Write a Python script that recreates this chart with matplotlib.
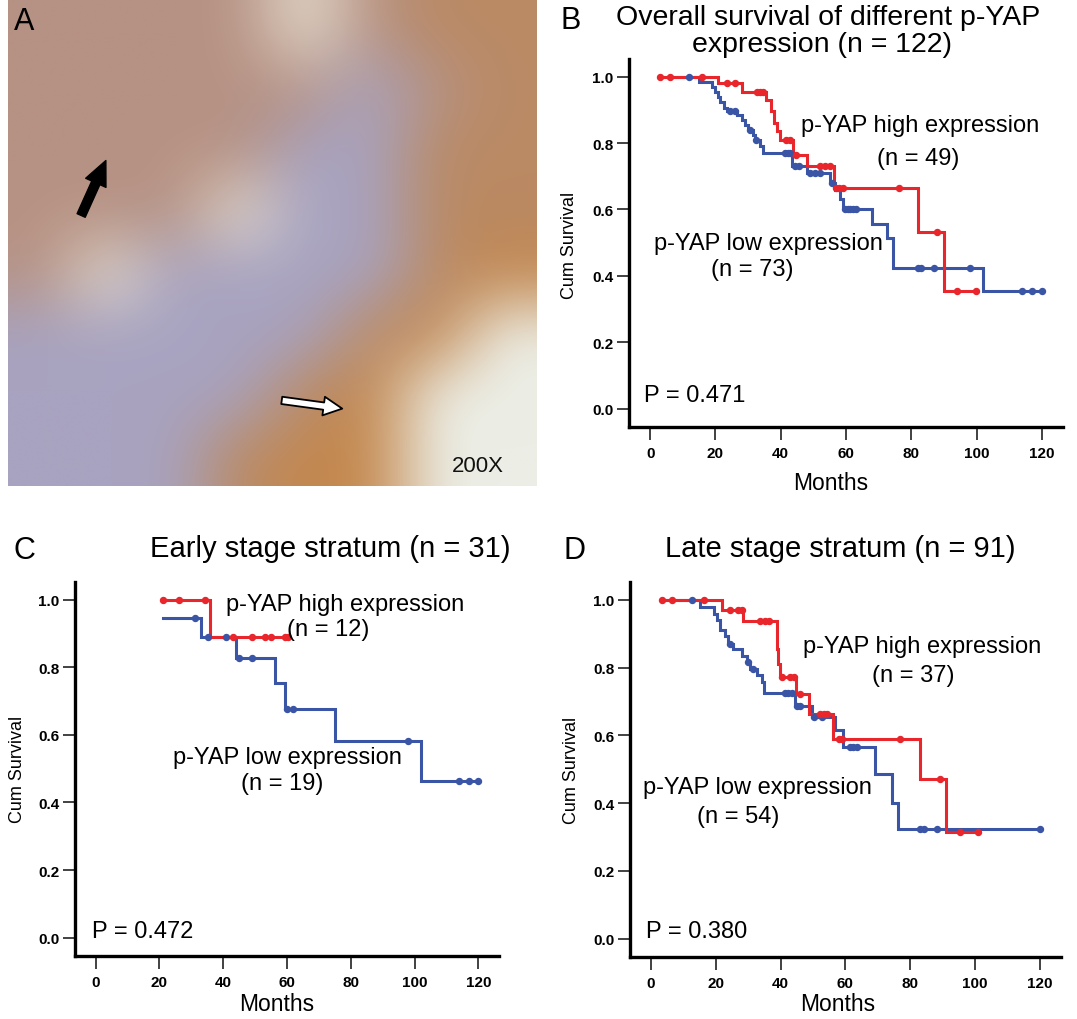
import numpy as np
import matplotlib
matplotlib.use("Agg")
import matplotlib.pyplot as plt

plt.rcParams['font.family'] = ['Liberation Sans', 'DejaVu Sans']

RED = '#e8262b'
BLUE = '#3b55a6'

# ---------------- Panel A: coarse colour map of the stained section ----------------
palette = {
    'T': (182, 146, 132),   # tumour, mauve-brown
    'K': (186, 138, 100),   # brown tumour
    'S': (168, 163, 192),   # stroma, blue-purple
    'W': (230, 222, 208),   # pale gaps
    'G': (236, 238, 230),   # empty background
    'O': (196, 136, 78),    # strongly stained edge
}
tissue_rows = [
    "TTTTWTKK",
    "TTTTTSTK",
    "TTTTSSKK",
    "TTTWSSKK",
    "TWSSSSKO",
    "SSSSSKOG",
    "SSSSKOGG",
    "SSSKOOGG",
]

# ---------------- Panel B: overall survival (n = 122) ----------------
B_high_t = [2.9, 20.9, 28.1, 35.5, 37.0, 38.0, 39.0, 39.8, 43.9, 48.0, 56.2, 82.2, 90.1, 99.9]
B_high_s = [1.0, 0.98, 0.955, 0.93, 0.895, 0.86, 0.835, 0.81, 0.765, 0.73, 0.665, 0.532, 0.355, 0.355]
B_high_c = [2.9, 6.1, 15.8, 23.5, 26.0, 32.7, 33.6, 34.5, 41.5, 42.9, 44.6, 52.1, 53.5, 55.0,
            57.0, 58.0, 59.2, 76.1, 87.8, 94.0, 99.9]
B_low_t = [3.5, 14.8, 18.9, 19.9, 20.9, 21.5, 22.5, 23.5, 26.5, 28.0, 29.0, 30.0, 31.6, 32.2,
           33.5, 34.5, 43.4, 48.0, 55.1, 56.7, 58.2, 59.2, 67.9, 72.5, 74.5, 102.1, 120.0]
B_low_s = [1.0, 0.985, 0.97, 0.955, 0.94, 0.925, 0.905, 0.895, 0.885, 0.87, 0.855, 0.84, 0.825, 0.81,
           0.79, 0.77, 0.73, 0.71, 0.68, 0.66, 0.63, 0.60, 0.555, 0.515, 0.425, 0.355, 0.355]
B_low_c = [12.0, 24.5, 26.0, 30.5, 32.5, 41.4, 42.2, 42.9, 44.5, 45.5, 49.0, 50.5, 52.1, 55.6,
           59.7, 60.5, 61.3, 62.2, 63.2, 82.2, 83.0, 87.0, 98.0, 113.9, 116.9, 120.0]

# ---------------- Panel C: early stage (n = 31) ----------------
C_high_t = [21.0, 36.0, 60.3]
C_high_s = [1.0, 0.89, 0.89]
C_high_c = [21.0, 26.1, 34.2, 43.1, 49.0, 53.0, 55.1, 59.3, 60.3]
C_low_t = [21.0, 33.0, 43.9, 56.1, 59.3, 74.9, 102.1, 120.0]
C_low_s = [0.947, 0.89, 0.8275, 0.754, 0.677, 0.582, 0.4645, 0.4645]
C_low_c = [31.1, 35.1, 41.0, 45.0, 49.0, 60.0, 61.9, 97.9, 114.1, 117.0, 120.0]

# ---------------- Panel D: late stage (n = 91) ----------------
D_high_t = [3.3, 21.8, 28.3, 38.8, 39.3, 39.9, 44.7, 48.9, 56.3, 83.1, 91.2, 101.1]
D_high_s = [1.0, 0.971, 0.938, 0.856, 0.812, 0.772, 0.723, 0.663, 0.590, 0.472, 0.314, 0.314]
D_high_c = [3.3, 6.4, 16.2, 24.4, 27.0, 28.0, 33.7, 35.2, 36.3, 40.4, 43.0, 44.0, 46.0,
            52.2, 53.3, 54.3, 57.9, 58.9, 76.9, 89.1, 95.3, 101.1]
D_low_t = [3.5, 15.1, 19.3, 20.3, 21.3, 22.9, 23.9, 25.4, 28.1, 29.6, 30.6, 32.6, 34.2, 34.8,
           44.5, 49.6, 56.9, 59.4, 69.2, 74.4, 76.2, 120.0]
D_low_s = [1.0, 0.98, 0.96, 0.94, 0.91, 0.895, 0.87, 0.856, 0.836, 0.816, 0.797, 0.777, 0.758, 0.724,
           0.688, 0.654, 0.615, 0.566, 0.487, 0.40, 0.323, 0.323]
D_low_c = [12.6, 24.5, 30.0, 31.5, 41.4, 42.4, 43.5, 45.0, 46.0, 50.2, 52.7, 61.5, 62.5, 63.6,
           83.1, 84.2, 88.3, 120.0]

xticks = [0, 20, 40, 60, 80, 100, 120]
yticks = [0.0, 0.2, 0.4, 0.6, 0.8, 1.0]

W, H = 1077, 1020
fig = plt.figure(figsize=(W / 100, H / 100), dpi=100)


def fx(px):
    return px / W


def fy(py):
    return 1 - py / H


# ---- Panel A ----
axA = fig.add_axes([fx(8), fy(487), fx(529), 487 / H])
img = np.array([[palette[c] for c in row] for row in tissue_rows], dtype=float) / 255.0
axA.imshow(img, extent=[0, 529, 487, 0], aspect='auto', interpolation='bicubic')
axA.set_xlim(0, 529)
axA.set_ylim(487, 0)
axA.axis('off')
axA.annotate('', xy=(99, 159), xytext=(72, 219),
             arrowprops=dict(arrowstyle='simple,head_width=1.0,head_length=1.1,tail_width=0.4',
                             fc='black', ec='black', mutation_scale=16))
axA.annotate('', xy=(337, 410), xytext=(271, 401),
             arrowprops=dict(arrowstyle='simple,head_width=0.9,head_length=0.9,tail_width=0.35',
                             fc='white', ec='black', lw=1.3, mutation_scale=15))
axA.text(470, 466, '200X', fontsize=16, ha='center', va='center', color='#111111')
fig.text(fx(24), fy(22), 'A', fontsize=22, ha='center', va='center')


def step_value(t, s, c):
    t = np.asarray(t)
    s = np.asarray(s)
    idx = np.searchsorted(t, np.asarray(c), side='right') - 1
    idx = np.clip(idx, 0, len(s) - 1)
    return s[idx]


def km_panel(px_box, high, low, texts, ptext, months_px, cum_px):
    l, t, r, b = px_box
    ax = fig.add_axes([fx(l), fy(b), fx(r) - fx(l), (b - t) / H])
    (ht, hs, hc), (lt, ls, lc) = high, low
    ax.step(lt, ls, where='post', color=BLUE, lw=2.2, solid_joinstyle='miter')
    ax.step(ht, hs, where='post', color=RED, lw=2.2, solid_joinstyle='miter')
    ax.plot(lc, step_value(lt, ls, lc), 'o', ms=4.3, color=BLUE, mec=BLUE)
    ax.plot(hc, step_value(ht, hs, hc), 'o', ms=4.3, color=RED, mec=RED)
    ax.set_xlim(-6.5, 126.5)
    ax.set_ylim(-0.055, 1.053)
    for sp in ('top', 'right'):
        ax.spines[sp].set_visible(False)
    for sp in ('left', 'bottom'):
        ax.spines[sp].set_linewidth(2.4)
    ax.set_xticks(xticks)
    ax.set_yticks(yticks)
    ax.set_yticklabels([f'{v:.1f}' for v in yticks])
    ax.tick_params(direction='out', length=9, width=1.3, color='#333333', labelsize=11)
    ax.tick_params(axis='x', pad=4.5)
    ax.tick_params(axis='y', pad=2)
    for lab in ax.get_xticklabels() + ax.get_yticklabels():
        lab.set_fontweight('bold')
    fig.text(fx(cum_px[0]), fy(cum_px[1]), 'Cum Survival', fontsize=13, rotation=90,
             ha='center', va='center')
    fig.text(fx(months_px[0]), fy(months_px[1]), 'Months', fontsize=16.5, ha='center', va='center')
    for (x, y, s) in texts:
        ax.text(x, y, s, fontsize=17, ha='center', va='center')
    ax.text(ptext[0], ptext[1], ptext[2], fontsize=17, ha='left', va='center')
    return ax


# ---- Panel B ----
km_panel((629, 60, 1063, 428),
         (B_high_t, B_high_s, B_high_c), (B_low_t, B_low_s, B_low_c),
         [(82.7, 0.855, 'p-YAP high expression'), (82.0, 0.755, '(n = 49)'),
          (36.3, 0.50, 'p-YAP low expression'), (31.4, 0.42, '(n = 73)')],
         (-2.0, 0.04, 'P = 0.471'), (831, 484), (570, 245))
fig.text(fx(571), fy(21), 'B', fontsize=22, ha='center', va='center')
fig.text(fx(828), fy(18), 'Overall survival of different p-YAP', fontsize=20.5, ha='center', va='center')
fig.text(fx(822), fy(45), 'expression (n = 122)', fontsize=20.5, ha='center', va='center')

# ---- Panel C ----
km_panel((75, 582.7, 499, 957.3),
         (C_high_t, C_high_s, C_high_c), (C_low_t, C_low_s, C_low_c),
         [(78.3, 0.987, 'p-YAP high expression'), (73.0, 0.913, '(n = 12)'),
          (60.0, 0.534, 'p-YAP low expression'), (58.5, 0.458, '(n = 19)')],
         (-1.3, 0.02, 'P = 0.472'), (277, 1005), (18, 769))
fig.text(fx(24), fy(551), 'C', fontsize=22, ha='center', va='center')
fig.text(fx(330), fy(549), 'Early stage stratum (n = 31)', fontsize=21, ha='center', va='center')

# ---- Panel D ----
km_panel((630, 583, 1060.7, 958.3),
         (D_high_t, D_high_s, D_high_c), (D_low_t, D_low_s, D_low_c),
         [(83.6, 0.864, 'p-YAP high expression'), (80.9, 0.779, '(n = 37)'),
          (32.7, 0.447, 'p-YAP low expression'), (27.0, 0.363, '(n = 54)')],
         (-1.6, 0.022, 'P = 0.380'), (838, 1005), (571, 770))
fig.text(fx(575), fy(551), 'D', fontsize=22, ha='center', va='center')
fig.text(fx(840), fy(549), 'Late stage stratum (n = 91)', fontsize=21, ha='center', va='center')

fig.savefig('out.png', dpi=100)
